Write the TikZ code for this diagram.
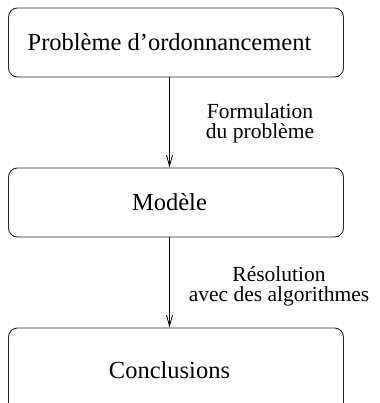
\documentclass[tikz,border=0pt]{standalone}
\usepackage{fontspec}
\setmainfont{Liberation Serif}
\newfontfamily\labfont{Liberation Serif}
\usetikzlibrary{arrows.meta}
\begin{document}
\begin{tikzpicture}[x=1pt,y=-1pt,
  box/.style={draw=black!85, line width=0.9pt, rounded corners=9pt,
    minimum width=335pt, inner sep=0pt,
    font=\labfont\fontsize{24.5pt}{28pt}\selectfont,
    execute at begin node={\hspace*{-13pt}}},
  lab/.style={align=center, inner sep=0pt,
    font=\labfont\fontsize{21.5pt}{20pt}\selectfont},
  arr/.style={draw=black, line width=0.8pt,
    -{Straight Barb[length=11pt,width=6pt,line width=0.8pt]}}]
\useasboundingbox (0,0) rectangle (379,403);
\fill[white] (0,0) rectangle (379,403);
\node[box, minimum height=69pt] (top) at (176,42.5) {Problème d’ordonnancement};
\node[box, minimum height=69pt] (mid) at (176,202.5) {Modèle};
\node[box, minimum height=84pt] (bot) at (176,370) {Conclusions};
\coordinate (ax) at (169.5,0);
\draw[arr] (top.south -| ax) -- (mid.north -| ax);
\draw[arr] (mid.south -| ax) -- (bot.north -| ax);
\node[lab] (l1) at (260,123.5) {Formulation\\du problème};
\node[lab] (l2) at (279,286) {Résolution\\avec des algorithmes};
\end{tikzpicture}
\end{document}
